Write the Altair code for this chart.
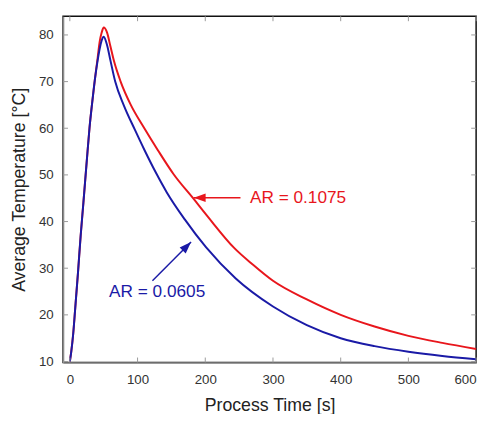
import altair as alt
import pandas as pd

# ---- data ----
red_t = [0, 2, 5, 8, 12, 16, 20, 25, 29, 33, 37, 41, 44, 47, 50, 55, 60, 65, 75, 90,
         110, 130, 153, 182, 204, 243, 270, 300, 350, 400, 450, 500, 550, 600]
red_T = [10, 12, 16, 21.5, 29, 37, 44, 53, 60, 65.5, 70.5, 75, 78.5, 80.5, 81.6, 80.5, 77.5, 74.5, 70, 65,
         60, 55.3, 50.2, 45, 41, 34.3, 30.8, 27.3, 23.3, 20, 17.5, 15.5, 14, 12.7]

blue_t = [0, 2, 5, 8, 12, 16, 20, 25, 29, 33, 37, 41, 44, 47, 50, 55, 60, 67, 80,
          96, 110, 127, 143, 170, 201, 245, 300, 350, 400, 450, 500, 550, 600]
blue_T = [10, 12, 16, 21.5, 29, 37, 44, 53, 60, 65.5, 70.5, 74.5, 77, 78.8, 79.6, 77.8, 74.5, 70, 64.8,
          59.7, 55.4, 50.5, 46.3, 40.4, 34.5, 27.8, 21.8, 17.8, 15, 13.3, 12.1, 11.2, 10.5]

series_names = ["AR = 0.1075", "AR = 0.0605"]
series_colors = ["#E8161C", "#1A1AA6"]

x_ticks = [0, 100, 200, 300, 400, 500, 600]
y_ticks = [10, 20, 30, 40, 50, 60, 70, 80]

# annotations (text anchor and arrow tail/tip in data units)
ann_text = ["AR = 0.1075", "AR = 0.0605"]
ann_tx = [266, 58]
ann_ty = [45.1, 24.8]
arrow_x0 = [252, 122]
arrow_y0 = [45.1, 27.3]
arrow_x1 = [183, 179]
arrow_y1 = [45.1, 35.6]
arrow_angle = [0, 135]

FONT = "Liberation Sans"
W, H = 420, 352

df = pd.DataFrame({
    "t": red_t + blue_t,
    "T": red_T + blue_T,
    "series": [series_names[0]] * len(red_t) + [series_names[1]] * len(blue_t),
})
ann = pd.DataFrame({
    "text": ann_text, "tx": ann_tx, "ty": ann_ty,
    "x0": arrow_x0, "y0": arrow_y0, "x1": arrow_x1, "y1": arrow_y1,
    "angle": arrow_angle, "series": series_names,
})

xs = alt.Scale(domain=[-10, 600], nice=False, zero=False)
ys = alt.Scale(domain=[9.8, 84], nice=False, zero=False)
cs = alt.Scale(domain=series_names, range=series_colors)

x_axis = alt.Axis(
    values=x_ticks, title="Process Time [s]", ticks=False, grid=False,
    domainColor="#8c8c8c", domainWidth=1.5, labelFontSize=13.5, labelColor="#333333",
    labelPadding=10, labelFont=FONT, titleFont=FONT, titleFontSize=18,
    titleFontWeight="normal", titleColor="#222222", titlePadding=11)
y_axis = alt.Axis(
    values=y_ticks, title="Average Temperature [°C]", ticks=False, grid=False,
    domainColor="#8c8c8c", domainWidth=1.5, labelFontSize=13.5, labelColor="#333333",
    labelPadding=10, labelFont=FONT, titleFont=FONT, titleFontSize=18,
    titleFontWeight="normal", titleColor="#222222", titlePadding=10)

lines = alt.Chart(df).mark_line(strokeWidth=2, interpolate="monotone").encode(
    x=alt.X("t:Q", scale=xs, axis=x_axis),
    y=alt.Y("T:Q", scale=ys, axis=y_axis),
    color=alt.Color("series:N", scale=cs, legend=None),
    detail="series:N",
)

xt = pd.DataFrame({"v": x_ticks})
yt = pd.DataFrame({"v": y_ticks})
tick_col = "#9a9a9a"
xb = alt.Chart(xt).mark_rule(color=tick_col, strokeWidth=1).encode(
    x=alt.X("v:Q", scale=xs, axis=x_axis), y=alt.value(H), y2=alt.value(H - 5))
xtop = alt.Chart(xt).mark_rule(color=tick_col, strokeWidth=1).encode(
    x=alt.X("v:Q", scale=xs, axis=x_axis), y=alt.value(0), y2=alt.value(5))
yl = alt.Chart(yt).mark_rule(color=tick_col, strokeWidth=1).encode(
    y=alt.Y("v:Q", scale=ys, axis=y_axis), x=alt.value(0), x2=alt.value(5))
yr = alt.Chart(yt).mark_rule(color=tick_col, strokeWidth=1).encode(
    y=alt.Y("v:Q", scale=ys, axis=y_axis), x=alt.value(W - 5), x2=alt.value(W))

arrows = alt.Chart(ann).mark_rule(strokeWidth=1.5).encode(
    x=alt.X("x0:Q", scale=xs, axis=x_axis), y=alt.Y("y0:Q", scale=ys, axis=y_axis),
    x2="x1:Q", y2="y1:Q",
    color=alt.Color("series:N", scale=cs, legend=None),
)
heads = alt.Chart(ann).mark_point(
    shape="M0,0L1,-0.36L1,0.36Z", filled=True, size=580, opacity=1, strokeWidth=0
).encode(
    x=alt.X("x1:Q", scale=xs, axis=x_axis), y=alt.Y("y1:Q", scale=ys, axis=y_axis),
    angle=alt.Angle("angle:Q", scale=None),
    color=alt.Color("series:N", scale=cs, legend=None),
)
labels = alt.Chart(ann).mark_text(
    align="left", baseline="middle", fontSize=17.5, font=FONT
).encode(
    x=alt.X("tx:Q", scale=xs, axis=x_axis), y=alt.Y("ty:Q", scale=ys, axis=y_axis),
    text="text:N",
    color=alt.Color("series:N", scale=cs, legend=None),
)

chart = alt.layer(lines, xb, xtop, yl, yr, arrows, heads, labels).properties(
    width=W, height=H,
    autosize=alt.AutoSizeParams(type="none"),
    padding={"left": 56, "top": 5, "right": 7, "bottom": 49},
    background="white",
).configure_view(stroke="#111111", strokeWidth=1.5)

chart.save("out.html", embed_options={"renderer": "svg", "actions": False})
